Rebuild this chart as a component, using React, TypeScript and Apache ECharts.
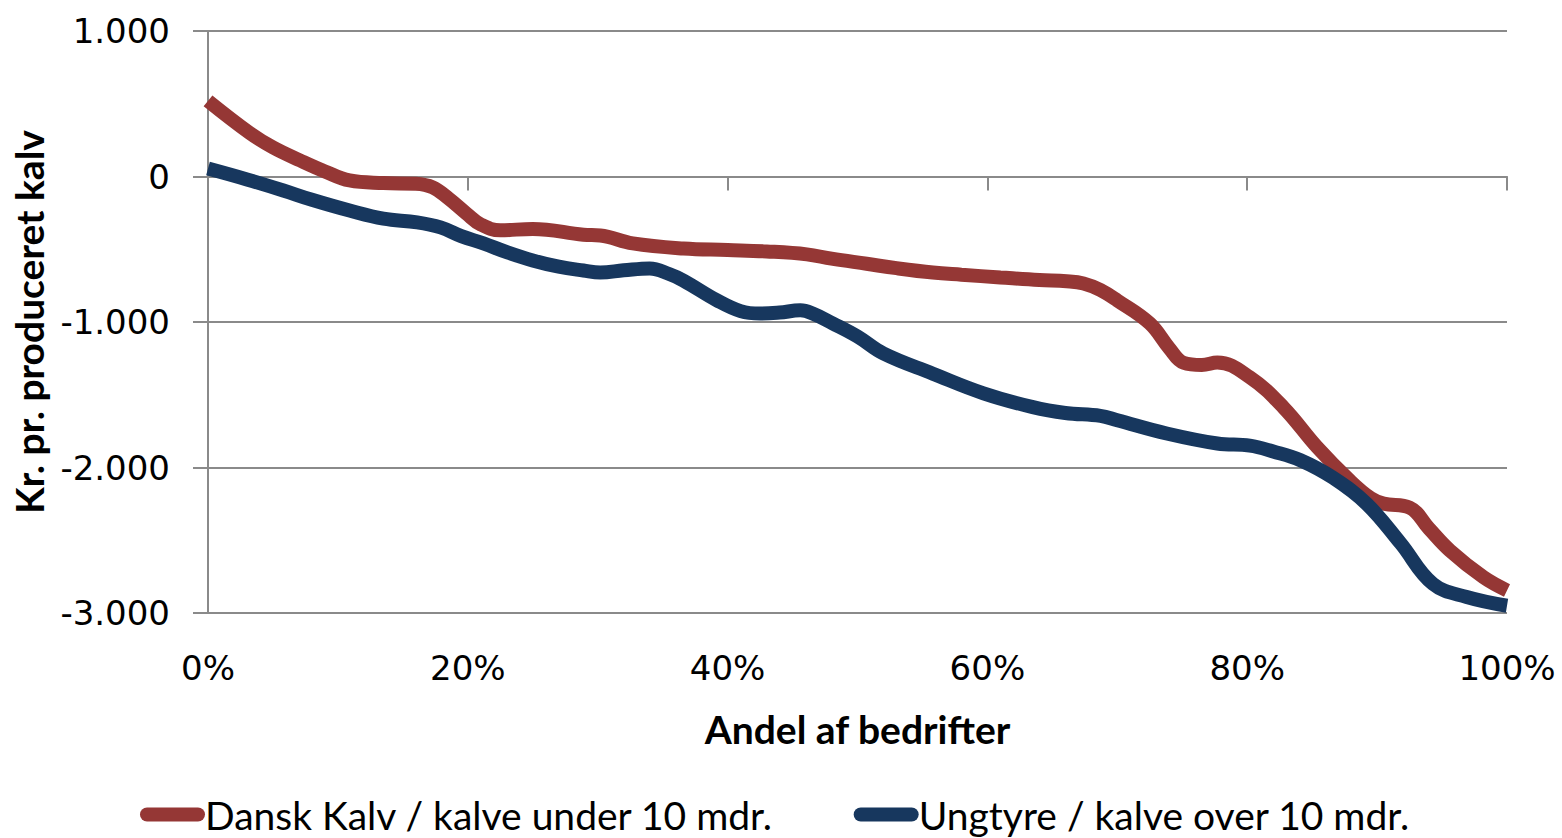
import React, { useEffect, useRef } from "react";
import * as echarts from "echarts";

const redPct = [0, 3.2, 5, 7.1, 9, 10.9, 13.5, 16, 17.3, 18.5, 19.9, 21, 22.5, 25, 28.9, 30.2, 32.7, 36.6, 40, 43, 46.1, 48, 50.7, 53, 55.8, 58, 61, 64, 66.1, 67.4, 68.7, 70, 72.5, 74, 75.1, 76.5, 77.7, 80.2, 82.8, 85.4, 87.9, 89.5, 90.5, 92.5, 94, 95.6, 98.2, 100];
const redVal = [520, 300, 200, 110, 35, -27, -45, -50, -75, -150, -255, -330, -370, -360, -400, -405, -460, -495, -505, -515, -535, -565, -600, -630, -660, -675, -694, -712, -720, -735, -780, -852, -1010, -1180, -1280, -1295, -1278, -1380, -1588, -1862, -2090, -2210, -2248, -2275, -2420, -2570, -2755, -2845];

const bluePct = [0, 3, 5.8, 8, 10.9, 13.5, 16.1, 17.9, 19.5, 21.2, 23, 25, 27, 28.9, 30.2, 32, 34, 35.5, 36.6, 39.2, 41, 42.5, 44, 45.6, 46.5, 48.1, 50, 52, 55.8, 59.7, 63.5, 66, 68.7, 70, 73.8, 77.7, 80.2, 82, 84.1, 86.6, 89.2, 91.8, 94.3, 96.9, 100];
const blueVal = [55, -20, -96, -160, -234, -290, -315, -350, -410, -460, -520, -577, -620, -646, -660, -645, -632, -670, -715, -852, -925, -942, -935, -920, -940, -1010, -1100, -1217, -1355, -1490, -1585, -1625, -1645, -1675, -1766, -1835, -1850, -1890, -1950, -2070, -2250, -2520, -2800, -2890, -2950];

const seriesNames = ["Dansk Kalv / kalve under 10 mdr.", "Ungtyre / kalve over 10 mdr."];
const colors = ["#953735", "#17375E"];

const fmtNum = (v: number) => {
  const s = Math.abs(v).toString().replace(/\B(?=(\d{3})+(?!\d))/g, ".");
  return (v < 0 ? "-" : "") + s;
};

export default function App() {
  const ref = useRef<HTMLDivElement>(null);
  useEffect(() => {
    if (!ref.current) return;
    const chart = echarts.init(ref.current, undefined, { renderer: "svg" });
    const gray = "#8a8a8a";
    const tickFont = { fontFamily: "DejaVu Sans", fontSize: 34, color: "#000" };
    const titleFont = { fontFamily: "Lato", fontWeight: "bold", fontSize: 39, color: "#000" };
    const legendIcon = "path://M7,0 H58 A7,7 0 0 1 58,14 H7 A7,7 0 0 1 7,0 Z";
    chart.setOption({
      animation: false,
      backgroundColor: "#fff",
      grid: { left: 208, right: 55, top: 31, bottom: 225, containLabel: false },
      legend: {
        left: 135,
        top: 795,
        padding: [0, 5, 0, 5],
        itemGap: 80,
        itemWidth: 65,
        itemHeight: 14,
        textStyle: { fontFamily: "Lato", fontSize: 39, color: "#000", padding: [0, 0, 0, -5] },
        data: seriesNames.map((n, i) => ({ name: n, icon: legendIcon, itemStyle: { color: colors[i] } })),
      },
      xAxis: [
        {
          type: "value",
          min: 0,
          max: 100,
          interval: 20,
          position: "bottom",
          name: "Andel af bedrifter",
          nameLocation: "middle",
          nameGap: 96,
          nameTextStyle: titleFont,
          axisLine: { show: false, onZero: false },
          axisTick: { show: false },
          splitLine: { show: false },
          axisLabel: { ...tickFont, margin: 38, formatter: (v: number) => `${v}%` },
        },
        {
          type: "value",
          min: 0,
          max: 100,
          interval: 20,
          position: "bottom",
          axisLine: { show: true, onZero: true, lineStyle: { color: gray, width: 2 } },
          axisTick: { show: true, inside: false, length: 14, lineStyle: { color: gray, width: 2 } },
          axisLabel: { show: false },
          splitLine: { show: false },
        },
      ],
      yAxis: {
        type: "value",
        min: -3000,
        max: 1000,
        interval: 1000,
        name: "Kr. pr. produceret kalv",
        nameLocation: "middle",
        nameGap: 160,
        nameTextStyle: titleFont,
        axisLine: { show: true, onZero: false, lineStyle: { color: gray, width: 2 } },
        axisTick: { show: true, length: 15, lineStyle: { color: gray, width: 2 } },
        splitLine: { show: true, lineStyle: { color: gray, width: 2 } },
        axisLabel: { ...tickFont, margin: 38, formatter: (v: number) => fmtNum(v) },
      },
      series: [
        {
          name: seriesNames[0],
          type: "line",
          xAxisIndex: 0,
          data: redPct.map((p, i) => [p, redVal[i]]),
          smooth: 0.4,
          showSymbol: false,
          symbol: "none",
          lineStyle: { color: colors[0], width: 14 },
          itemStyle: { color: colors[0] },
          z: 3,
        },
        {
          name: seriesNames[1],
          type: "line",
          xAxisIndex: 0,
          data: bluePct.map((p, i) => [p, blueVal[i]]),
          smooth: 0.4,
          showSymbol: false,
          symbol: "none",
          lineStyle: { color: colors[1], width: 14 },
          itemStyle: { color: colors[1] },
          z: 4,
        },
      ],
    });
    return () => chart.dispose();
  }, []);
  return <div ref={ref} style={{ width: 1562, height: 838, position: "absolute", left: 0, top: 0 }} />;
}
